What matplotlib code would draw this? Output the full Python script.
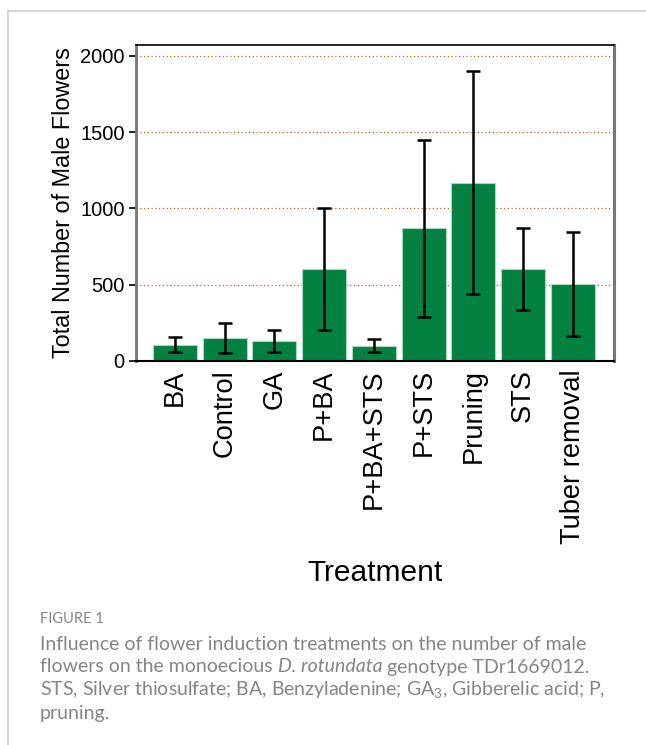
import matplotlib
matplotlib.use("Agg")
import matplotlib.pyplot as plt
from matplotlib.lines import Line2D

# Treatment means and standard deviations (number of male flowers)
treatments = ["BA", "Control", "GA", "P+BA", "P+BA+STS", "P+STS",
              "Pruning", "STS", "Tuber removal"]
means = [108, 152, 128, 600, 100, 870, 1170, 605, 505]
errors = [52, 97, 72, 400, 44, 580, 730, 270, 338]
yticks = [0, 500, 1000, 1500, 2000]

caption_title = "FIGURE 1"
# each caption line is a list of (text, style) segments
caption_lines = [
    [("Influence of flower induction treatments on the number of male", "normal")],
    [("flowers on the monoecious ", "normal"), ("D. rotundata", "italic"),
     (" genotype TDr1669012.", "normal")],
    [("STS, Silver thiosulfate; BA, Benzyladenine; GA$_3$, Gibberelic acid; P,", "normal")],
    [("pruning.", "normal")],
]

W, H = 646, 745
plt.rcParams["font.family"] = ["Liberation Sans", "DejaVu Sans"]
plt.rcParams["mathtext.fontset"] = "custom"
plt.rcParams["mathtext.rm"] = "Lato"
plt.rcParams["mathtext.it"] = "Lato:italic"
fig = plt.figure(figsize=(W / 100, H / 100), dpi=100)

# panel frame
fig.add_artist(Line2D([8 / W, 1], [1 - 11 / H, 1 - 11 / H], color="#cccccc",
                      lw=1.2, transform=fig.transFigure))
fig.add_artist(Line2D([8 / W, 8 / W], [0, 1 - 11 / H], color="#cccccc",
                      lw=1.2, transform=fig.transFigure))

ax = fig.add_axes([135.7 / W, 1 - 361 / H, (614 - 135.7) / W, (361 - 45) / H])

x = list(range(len(treatments)))
ax.bar(x, means, width=0.885, color="#038141", edgecolor="#a8d8bb",
       linewidth=0.8, zorder=2)
ax.errorbar(x, means, yerr=errors, fmt="none", ecolor="black",
            elinewidth=1.8, capsize=5, capthick=1.8, zorder=3)

ax.set_xlim(-0.79, 8.83)
ax.set_ylim(0, 2072)
ax.set_yticks(yticks)
ax.set_yticklabels([str(v) for v in yticks], fontsize=14.5)
ax.set_xticks(x)
ax.set_xticklabels(treatments, rotation=90, fontsize=19.6)
ax.tick_params(axis="x", length=0, pad=6)
ax.tick_params(axis="y", length=5, width=1.2, direction="out", pad=3)

for v in yticks[1:]:
    ax.axhline(v, color="#b5652a", lw=0.9, ls=(0, (1, 2)), zorder=1)

ax.spines["left"].set_color("#777777")
ax.spines["left"].set_linewidth(2)
ax.spines["right"].set_color("#777777")
ax.spines["right"].set_linewidth(2.2)
ax.spines["top"].set_linewidth(1.2)
ax.spines["bottom"].set_linewidth(1.5)

ax.set_ylabel("Total Number of Male Flowers", fontsize=16.8, labelpad=4)
ax.set_xlabel("Treatment", fontsize=21.5, labelpad=11)

# caption
cap_color = "#858585"
fig.text(40 / W, 1 - 619 / H, caption_title, fontsize=10.5, color=cap_color,
         family=["Lato", "DejaVu Sans"], va="center", ha="left")

renderer = fig.canvas.get_renderer()
for i, segments in enumerate(caption_lines):
    xpix = 40.0
    ypos = 1 - (644 + 23 * i) / H
    for text, style in segments:
        t = fig.text(xpix / W, ypos, text, fontsize=14.0, color=cap_color,
                     family=["Lato", "DejaVu Sans"], style=style,
                     va="center", ha="left")
        xpix += t.get_window_extent(renderer=renderer).width

fig.savefig("out.png", dpi=100)
